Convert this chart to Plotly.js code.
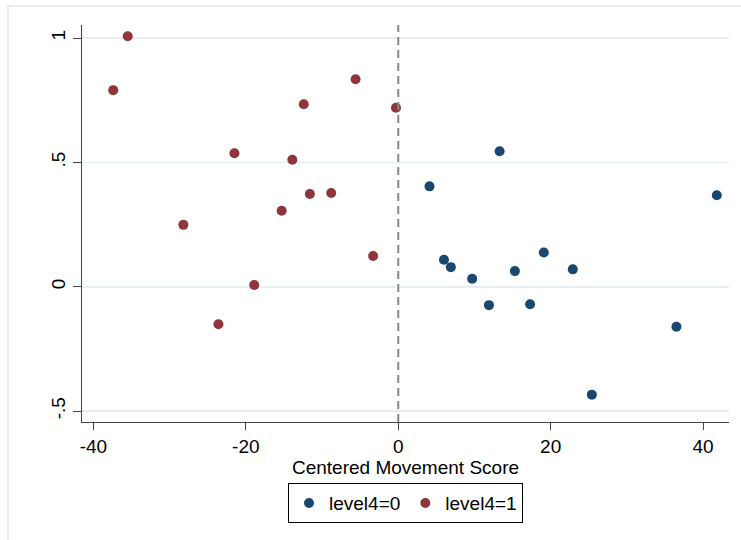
<!DOCTYPE html>
<html>
<head>
<meta charset="utf-8">
<script src="https://cdn.plot.ly/plotly-3.0.1.min.js"></script>
<style>html,body{margin:0;padding:0;background:#fff}#chart{width:741px;height:540px}</style>
</head>
<body>
<div id="chart"></div>
<script>
// level4 = 0 (navy)
var level0X = [13.3, 4.1, 41.8, 6.0, 6.9, 9.7, 15.3, 19.1, 22.9, 11.9, 17.3, 36.5, 25.4];
var level0Y = [0.545, 0.404, 0.368, 0.109, 0.079, 0.032, 0.063, 0.138, 0.070, -0.074, -0.070, -0.161, -0.434];
// level4 = 1 (maroon)
var level1X = [-35.5, -37.4, -5.6, -12.4, -21.5, -13.9, -28.2, -15.3, -11.6, -8.8, -18.9, -3.3, -0.3, -23.6];
var level1Y = [1.008, 0.791, 0.835, 0.734, 0.537, 0.511, 0.249, 0.306, 0.373, 0.377, 0.007, 0.124, 0.720, -0.151];
var xTicks = [-40, -20, 0, 20, 40];
var xTickText = ['-40', '-20', '0', '20', '40'];
var yTicks = [-0.5, 0, 0.5, 1];
var yTickText = ['-.5', '0', '.5', '1'];
var seriesNames = ['level4=0', 'level4=1'];

var font = {family: 'Liberation Sans, Arial, sans-serif', size: 19, color: '#000'};

var traces = [
  {x: level0X, y: level0Y, mode: 'markers', type: 'scatter', name: seriesNames[0],
   marker: {color: '#1a476f', size: 10}},
  {x: level1X, y: level1Y, mode: 'markers', type: 'scatter', name: seriesNames[1],
   marker: {color: '#90353b', size: 10}}
];

var layout = {
  width: 741, height: 540,
  margin: {l: 82, r: 12, t: 25, b: 118},
  paper_bgcolor: '#fff', plot_bgcolor: '#fff',
  font: font,
  showlegend: true,
  xaxis: {
    range: [-41.5, 43.4], tickvals: xTicks, ticktext: xTickText,
    showgrid: false, zeroline: false, showline: true, linecolor: '#444', linewidth: 1.2,
    ticks: 'outside', ticklen: 7, tickcolor: '#444', tickfont: font,
    title: {text: 'Centered Movement Score', font: font, standoff: 4},
    automargin: false
  },
  yaxis: {
    range: [-0.544, 1.053], tickvals: yTicks, ticktext: yTickText,
    showgrid: true, gridcolor: '#e6eef1', gridwidth: 1.5, zeroline: false,
    showline: true, linecolor: '#444', linewidth: 1.2,
    ticks: 'outside', ticklen: 8, tickcolor: '#444', tickfont: font, tickangle: -90,
    automargin: false
  },
  legend: {
    orientation: 'h', x: 0.5, xanchor: 'center', y: -0.154, yanchor: 'top',
    bordercolor: '#000', borderwidth: 1, font: font, bgcolor: '#fff',
    itemwidth: 30
  },
  shapes: [
    {type: 'line', xref: 'x', yref: 'paper', x0: 0, x1: 0, y0: 0, y1: 1,
     line: {color: '#888', width: 2, dash: '8px,5px'}},
    {type: 'rect', xref: 'paper', yref: 'paper', x0: -0.1144, x1: 1.05, y0: -0.4, y1: 1.048,
     line: {color: '#e6eef1', width: 2}, fillcolor: 'rgba(0,0,0,0)', layer: 'below'}
  ]
};

Plotly.newPlot('chart', traces, layout, {displayModeBar: false, staticPlot: true});
</script>
</body>
</html>
